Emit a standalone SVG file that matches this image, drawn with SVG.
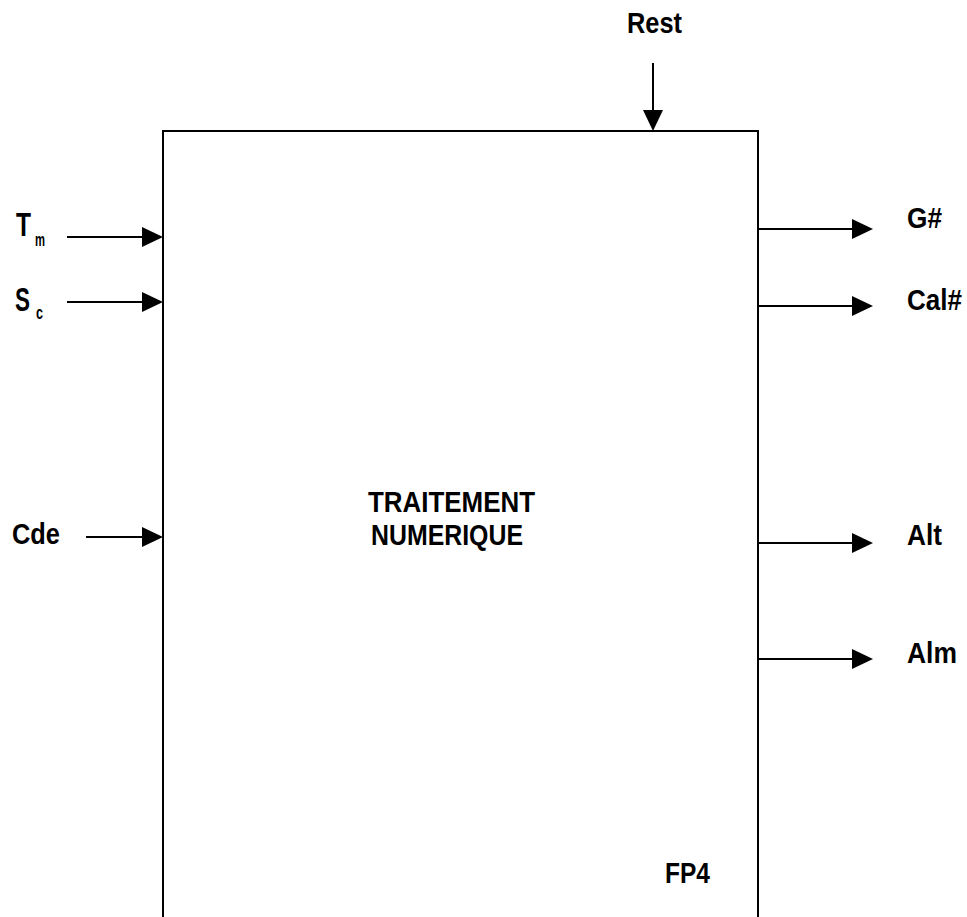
<svg xmlns="http://www.w3.org/2000/svg" width="967" height="917" viewBox="0 0 967 917">
<style>
text{font-family:"Liberation Sans",Arial,sans-serif;font-weight:bold;font-size:29px;fill:#000}
.big{font-size:34px}
.sub{font-size:19px}
.ln{stroke:#000;stroke-width:2;fill:none}
.ah{fill:#000}
</style>
<rect width="967" height="917" fill="#fff"/>
<g id="block">
<path class="ln" d="M163,930 V131 H758 V930"/>
<text x="368" y="512" textLength="167" lengthAdjust="spacingAndGlyphs">TRAITEMENT</text>
<text x="371" y="545" textLength="152" lengthAdjust="spacingAndGlyphs">NUMERIQUE</text>
<text x="665" y="883" textLength="45" lengthAdjust="spacingAndGlyphs">FP4</text>
</g>
<g id="labels">
<text x="627" y="33" textLength="55" lengthAdjust="spacingAndGlyphs">Rest</text>
<text class="big" x="16" y="236" textLength="15" lengthAdjust="spacingAndGlyphs">T</text>
<text class="sub" x="35" y="246" textLength="10" lengthAdjust="spacingAndGlyphs">m</text>
<text class="big" x="15" y="311" textLength="15" lengthAdjust="spacingAndGlyphs">S</text>
<text class="sub" x="36" y="319" textLength="7" lengthAdjust="spacingAndGlyphs">c</text>
<text x="12" y="544" textLength="48" lengthAdjust="spacingAndGlyphs">Cde</text>
<text x="907" y="228" textLength="35" lengthAdjust="spacingAndGlyphs">G#</text>
<text x="907" y="310" textLength="55" lengthAdjust="spacingAndGlyphs">Cal#</text>
<text x="907" y="545" textLength="35" lengthAdjust="spacingAndGlyphs">Alt</text>
<text x="907" y="663" textLength="50" lengthAdjust="spacingAndGlyphs">Alm</text>
</g>
<g id="connectors">
<line class="ln" x1="653" y1="63" x2="653" y2="112"/>
<polygon class="ah" points="643,110 663,110 653,131"/>
<line class="ln" x1="67" y1="237" x2="145" y2="237"/>
<polygon class="ah" points="142,227 163,237 142,247"/>
<line class="ln" x1="67" y1="302" x2="145" y2="302"/>
<polygon class="ah" points="142,292 163,302 142,312"/>
<line class="ln" x1="86" y1="537" x2="145" y2="537"/>
<polygon class="ah" points="142,527 163,537 142,547"/>
<line class="ln" x1="758" y1="229" x2="855" y2="229"/>
<polygon class="ah" points="852,219 873,229 852,239"/>
<line class="ln" x1="758" y1="306" x2="855" y2="306"/>
<polygon class="ah" points="852,296 873,306 852,316"/>
<line class="ln" x1="758" y1="543" x2="855" y2="543"/>
<polygon class="ah" points="852,533 873,543 852,553"/>
<line class="ln" x1="758" y1="659" x2="855" y2="659"/>
<polygon class="ah" points="852,649 873,659 852,669"/>
</g>
</svg>
